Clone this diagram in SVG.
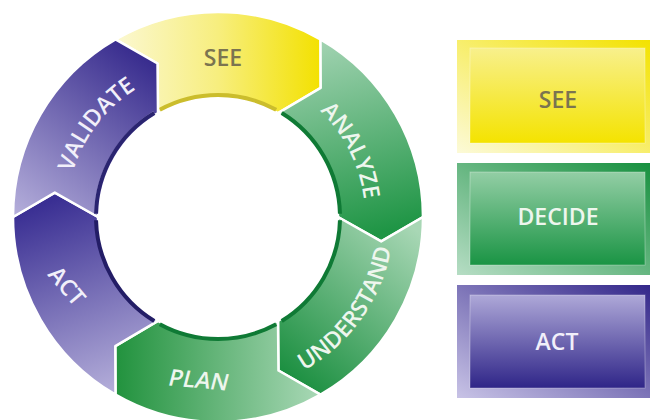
<svg xmlns="http://www.w3.org/2000/svg" width="650" height="420" viewBox="0 0 650 420">
<defs>
<linearGradient id="gSee" gradientUnits="userSpaceOnUse" x1="115" y1="0" x2="321" y2="0"><stop offset="0" stop-color="#fbf8d2"/><stop offset="0.5" stop-color="#f7ee7e"/><stop offset="1" stop-color="#f3e100"/></linearGradient>
<linearGradient id="gAnalyze" gradientUnits="userSpaceOnUse" x1="320" y1="40" x2="370" y2="235"><stop offset="0" stop-color="#a2d3b2"/><stop offset="1" stop-color="#1f9545"/></linearGradient>
<linearGradient id="gUnderstand" gradientUnits="userSpaceOnUse" x1="410" y1="225" x2="285" y2="375"><stop offset="0" stop-color="#a8d7b5"/><stop offset="1" stop-color="#1b8f40"/></linearGradient>
<linearGradient id="gPlan" gradientUnits="userSpaceOnUse" x1="320" y1="380" x2="118" y2="380"><stop offset="0" stop-color="#a9d8b6"/><stop offset="1" stop-color="#23933f"/></linearGradient>
<linearGradient id="gAct" gradientUnits="userSpaceOnUse" x1="110" y1="395" x2="40" y2="205"><stop offset="0" stop-color="#b5afda"/><stop offset="1" stop-color="#3a2f93"/></linearGradient>
<linearGradient id="gValidate" gradientUnits="userSpaceOnUse" x1="20" y1="230" x2="150" y2="55"><stop offset="0" stop-color="#bab4de"/><stop offset="1" stop-color="#35298c"/></linearGradient>
<linearGradient id="fSee" x1="0" y1="1" x2="1" y2="0"><stop offset="0" stop-color="#fcfad8"/><stop offset="1" stop-color="#f3e200"/></linearGradient>
<linearGradient id="fDecide" x1="0" y1="1" x2="1" y2="0"><stop offset="0" stop-color="#b6ddc4"/><stop offset="1" stop-color="#17903f"/></linearGradient>
<linearGradient id="fAct" x1="0" y1="1" x2="1" y2="0"><stop offset="0" stop-color="#c8c3e6"/><stop offset="1" stop-color="#33278a"/></linearGradient>
<linearGradient id="iSee" x1="0" y1="0" x2="0" y2="1"><stop offset="0" stop-color="#f8f08c"/><stop offset="1" stop-color="#f4e300"/></linearGradient>
<linearGradient id="iDecide" x1="0" y1="0" x2="0" y2="1"><stop offset="0" stop-color="#93cea5"/><stop offset="1" stop-color="#1a9444"/></linearGradient>
<linearGradient id="iAct" x1="0" y1="0" x2="0" y2="1"><stop offset="0" stop-color="#aea8d8"/><stop offset="1" stop-color="#2f2588"/></linearGradient>
<path id="pAnalyze" d="M292.6,90.34 A147 147 0 0 1 364.05,233.64"/>
<path id="pValidate" d="M66.18,224.43 A152 152 0 0 1 184.32,68.78"/>
<path id="pUnderstand" d="M262.07,387.39 A176 176 0 0 0 393.46,203.19"/>
</defs>
<style>
.seg{stroke:#ffffff;stroke-width:2.5;stroke-linejoin:round}
.rim{fill:none;stroke-width:4}
.lbl{font-family:"Open Sans","Liberation Sans",sans-serif;font-weight:600;font-size:23px;text-anchor:middle}
.lt{fill:#eef6ee}
.lp{fill:#f1effa}
.ly{fill:#7b7450}
.inner{stroke:#ffffff;stroke-opacity:0.3;stroke-width:1}
</style>
<rect width="650" height="420" fill="#ffffff"/>
<g id="connectors"></g>
<g id="ring">
<g id="seg-see">
<path class="seg" fill="url(#gSee)" d="M115.5,39.46 A205 205 0 0 1 320.5,39.46 L320.71,87.87 L278,113.08 A120 120 0 0 0 158,113.08 L157.53,63.48 Z"/>
<path class="rim" stroke="#cbbd2c" stroke-width="3" d="M159.79,109.78 A122 122 0 0 1 276.21,109.78"/>
<text class="lbl ly" x="223" y="66">SEE</text>
</g>
<g id="seg-analyze">
<path class="seg" fill="url(#gAnalyze)" d="M320.5,39.46 A205 205 0 0 1 423,217 L381.19,241.39 L338,217 A120 120 0 0 0 278,113.08 L320.71,87.87 Z"/>
<path class="rim" stroke="#0f7a35" d="M281.74,112.98 A122 122 0 0 1 339.96,213.81"/>
<text class="lbl lt"><textPath href="#pAnalyze" startOffset="50%">ANALYZE</textPath></text>
</g>
<g id="seg-understand">
<path class="seg" fill="url(#gUnderstand)" d="M423,217 A205 205 0 0 1 320.5,394.54 L278.47,370.52 L278,320.92 A120 120 0 0 0 338,217 L381.19,241.39 Z"/>
<path class="rim" stroke="#0f7a35" d="M339.96,220.19 A122 122 0 0 1 281.74,321.02"/>
<text class="lbl lt"><textPath href="#pUnderstand" startOffset="50%">UNDERSTAND</textPath></text>
</g>
<g id="seg-plan">
<path class="seg" fill="url(#gPlan)" d="M320.5,394.54 A205 205 0 0 1 115.5,394.54 L115.29,346.13 L158,320.92 A120 120 0 0 0 278,320.92 L278.47,370.52 Z"/>
<path class="rim" stroke="#0f7a35" d="M276.21,324.22 A122 122 0 0 1 159.79,324.22"/>
<text class="lbl lt" transform="translate(199,380) rotate(5) skewX(-10)" x="0" y="8">PLAN</text>
</g>
<g id="seg-act">
<path class="seg" fill="url(#gAct)" d="M115.5,394.54 A205 205 0 0 1 13,217 L54.81,192.61 L98,217 A120 120 0 0 0 158,320.92 L115.29,346.13 Z"/>
<path class="rim" stroke="#231d66" d="M154.26,321.02 A122 122 0 0 1 96.04,220.19"/>
<text class="lbl lp" transform="translate(67,286) rotate(50)" x="0" y="8">ACT</text>
</g>
<g id="seg-validate">
<path class="seg" fill="url(#gValidate)" d="M13,217 A205 205 0 0 1 115.5,39.46 L157.53,63.48 L158,113.08 A120 120 0 0 0 98,217 L54.81,192.61 Z"/>
<path class="rim" stroke="#cfc9ef" stroke-width="3" d="M96.04,213.81 A123 123 0 0 1 154.26,112.98"/>
<path class="rim" stroke="#2a2470" stroke-width="1.5" d="M96.04,213.81 A121 121 0 0 1 154.26,112.98"/>
<text class="lbl lp"><textPath href="#pValidate" startOffset="50%">VALIDATE</textPath></text>
</g>
</g>
<g id="legend">
<g id="box-see">
<rect x="457" y="40" width="193" height="113" fill="url(#fSee)"/>
<rect class="inner" x="470" y="48" width="175" height="95" fill="url(#iSee)"/>
<text class="lbl ly" x="558" y="108">SEE</text>
</g>
<g id="box-decide">
<rect x="457" y="163" width="193" height="112" fill="url(#fDecide)"/>
<rect class="inner" x="470" y="172" width="175" height="93" fill="url(#iDecide)"/>
<text class="lbl lt" x="558" y="225">DECIDE</text>
</g>
<g id="box-act">
<rect x="457" y="285" width="193" height="113" fill="url(#fAct)"/>
<rect class="inner" x="470" y="295" width="175" height="93" fill="url(#iAct)"/>
<text class="lbl lp" x="557" y="350">ACT</text>
</g>
</g>
</svg>
